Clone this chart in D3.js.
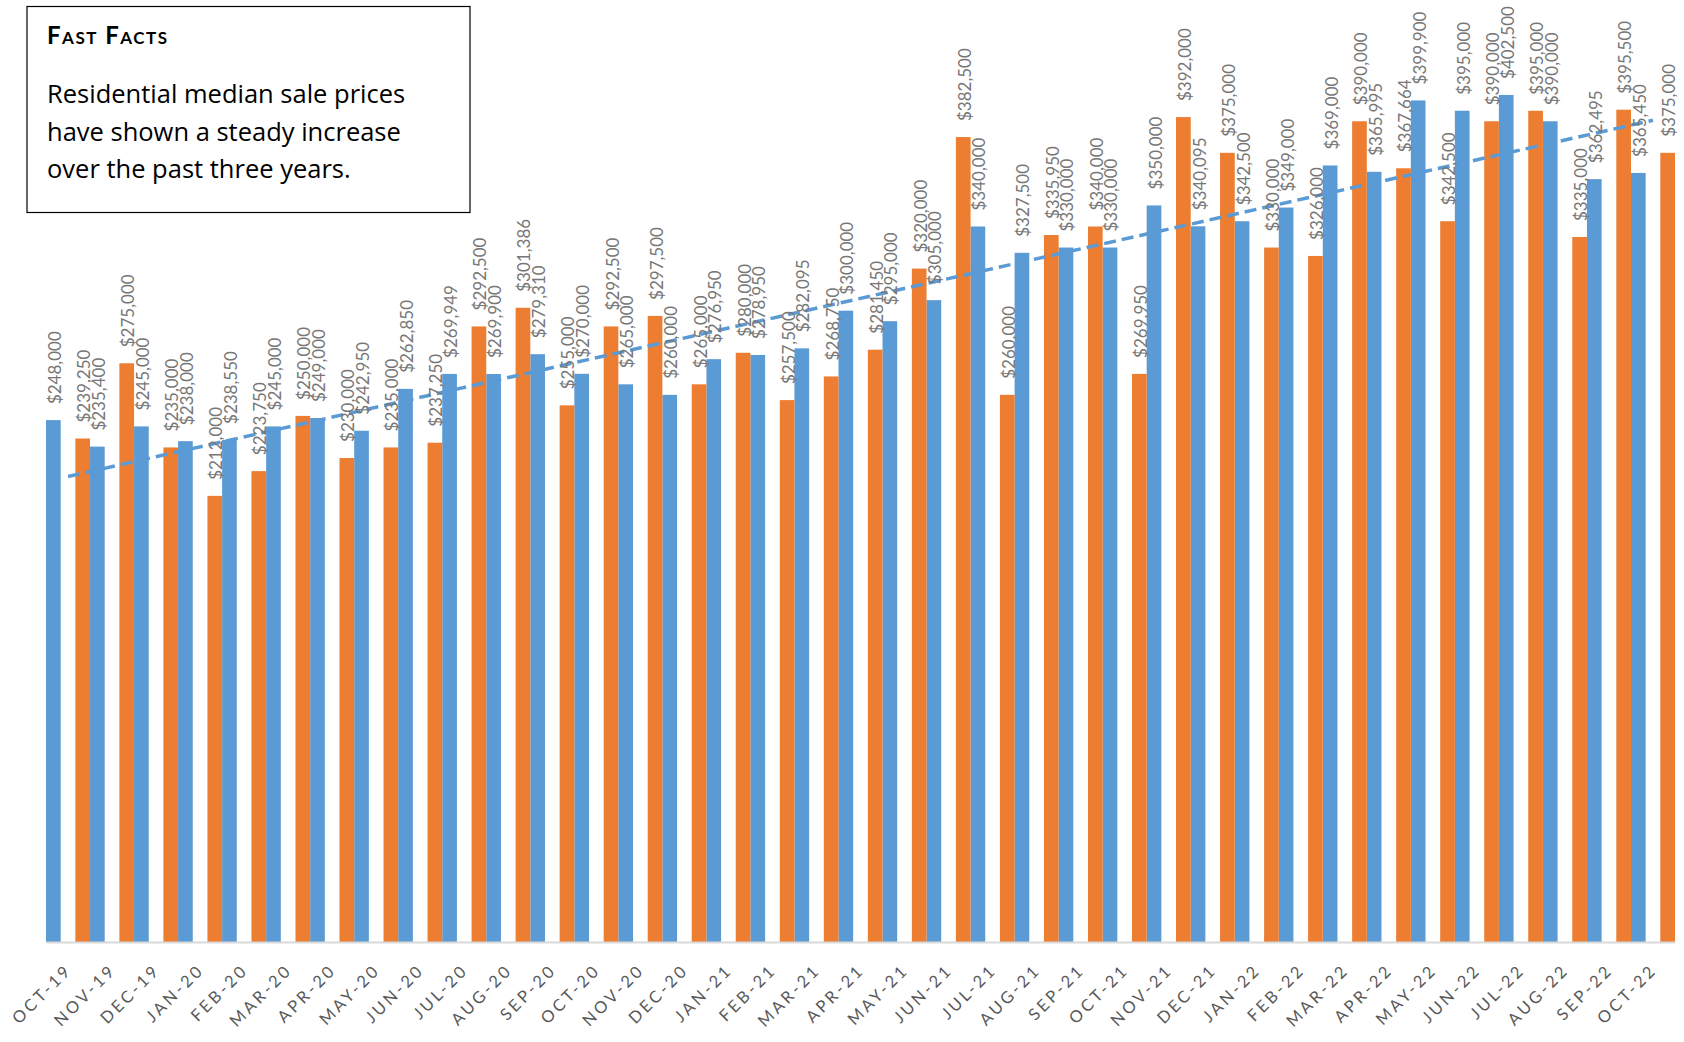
<!DOCTYPE html>
<html>
<head>
<meta charset="utf-8">
<title>Residential median sale prices</title>
<script src="https://cdn.jsdelivr.net/npm/d3@7"></script>
<style>
  body { margin: 0; background: white; }
  #plot { width: 1684px; height: 1042px; }
</style>
</head>
<body>
<div id="plot"></div>
<script>
// months on the axis
var months = ['OCT-19','NOV-19','DEC-19','JAN-20','FEB-20','MAR-20','APR-20','MAY-20','JUN-20','JUL-20',
              'AUG-20','SEP-20','OCT-20','NOV-20','DEC-20','JAN-21','FEB-21','MAR-21','APR-21','MAY-21',
              'JUN-21','JUL-21','AUG-21','SEP-21','OCT-21','NOV-21','DEC-21','JAN-22','FEB-22','MAR-22',
              'APR-22','MAY-22','JUN-22','JUL-22','AUG-22','SEP-22','OCT-22']

// blue series (left slot of each month)
var blueVals = [248000,235400,245000,238000,238550,245000,249000,242950,262850,269949,
                269900,279310,270000,265000,260000,276950,278950,282095,300000,295000,
                305000,340000,327500,330000,330000,350000,340095,342500,349000,369000,
                365995,399900,395000,402500,390000,362495,365450]

// orange series (right slot of each month)
var orangeVals = [239250,275000,235000,212000,223750,250000,230000,235000,237250,292500,
                  301386,255000,292500,297500,265000,280000,257500,268750,281450,320000,
                  382500,260000,335950,340000,269950,392000,375000,330000,326000,390000,
                  367664,342500,390000,395000,335000,395500,375000]

var factTitle = 'Fast Facts'
var factLines = ['Residential median sale prices', 'have shown a steady increase', 'over the past three years.']

var width = 1684, height = 1042
var svg = d3.select('#plot').append('svg')
              .attr('width', width)
              .attr('height', height)

var x = d3.scaleBand().domain(months).range([46, 1675]).padding(0)
var slot = d3.scaleBand().domain(['blue','gap','orange']).range([0, x.bandwidth()])
var y = d3.scaleLinear().domain([0, 450000]).range([942, -5])

var series = [
  {key: 'blue', values: blueVals, color: '#5B9BD5'},
  {key: 'orange', values: orangeVals, color: '#ED7D31'}
]
var fmt = d3.format('$,')

//BARS
var groups = svg.selectAll('.serie')
    .data(series)
    .enter()
    .append('g')
      .attr('class','serie')
      .attr('fill', function(d){return d.color})

groups.selectAll('rect')
    .data(function(d){return d.values.map(function(v,i){return {key:d.key, month:months[i], v:v}})})
    .enter()
    .append('rect')
      .attr('x', function(d){return x(d.month) + slot(d.key)})
      .attr('y', function(d){return y(d.v)})
      .attr('width', slot.bandwidth())
      .attr('height', function(d){return y(0) - y(d.v)})

//AXIS
var xAxis = svg.append('g')
    .attr('transform','translate(0,' + y(0) + ')')
    .call(d3.axisBottom(x).tickSize(0).tickSizeOuter(0))
xAxis.select('.domain').attr('stroke','#d9d9d9').attr('stroke-width',2)
xAxis.selectAll('text')
    .attr('x',0).attr('y',0).attr('dy',0)
    .attr('text-anchor','end')
    .attr('transform','translate(5,29) rotate(-45)')
    .attr('fill','#595959')
    .style('font-family','Lato')
    .style('font-size','16.5px')
    .style('letter-spacing','3px')

//TRENDLINE (linear fit of the blue series)
var n = blueVals.length
var mx = d3.mean(d3.range(n)), my = d3.mean(blueVals)
var slope = d3.sum(blueVals, function(v,i){return (i-mx)*(v-my)}) / d3.sum(d3.range(n), function(i){return (i-mx)*(i-mx)})
var icpt = my - slope*mx
var trend = [0, n-1].map(function(i){return [x(months[i]) + x.bandwidth()/2, y(icpt + slope*i)]})
svg.append('path')
    .attr('d', d3.line()(trend))
    .attr('fill','none')
    .attr('stroke','#5B9BD5')
    .attr('stroke-width',3.5)
    .attr('stroke-dasharray','12,6')

//DATA LABELS
svg.append('g').selectAll('text')
    .data(series.flatMap(function(s){return s.values.map(function(v,i){return {key:s.key, month:months[i], v:v}})}))
    .enter()
    .append('text')
      .attr('transform', function(d){
        var cx = x(d.month) + slot(d.key) + slot.bandwidth()/2 + 1
        return 'translate(' + cx + ',' + (y(d.v) - 16) + ') rotate(-90)'})
      .attr('dominant-baseline','central')
      .attr('fill','#777777')
      .style('font-family','Lato')
      .style('font-size','17px')
      .text(function(d){return fmt(d.v)})

//FAST FACTS BOX
var box = svg.append('g')
box.append('rect')
    .attr('x',27).attr('y',6.5)
    .attr('width',443).attr('height',206)
    .attr('fill','white')
    .attr('stroke','black')
    .attr('stroke-width',1.2)
box.append('text')
    .attr('x',47).attr('y',44)
    .style('font-family','Lato')
    .style('font-weight','bold')
    .style('font-variant','small-caps')
    .style('font-size','24px')
    .style('letter-spacing','1.5px')
    .text(factTitle)
box.selectAll('.line')
    .data(factLines)
    .enter()
    .append('text')
      .attr('class','line')
      .attr('x',47)
      .attr('y', function(d,i){return 103 + i*37.6})
      .style('font-family','Open Sans')
      .style('font-size','25.5px')
      .text(function(d){return d})
</script>
</body>
</html>
